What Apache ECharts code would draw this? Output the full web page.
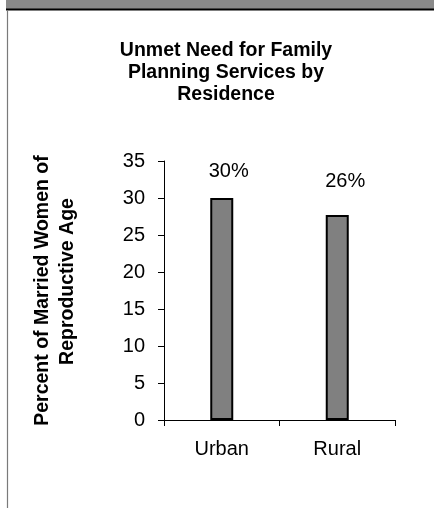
<!DOCTYPE html>
<html>
<head>
<meta charset="utf-8">
<script src="https://cdn.jsdelivr.net/npm/echarts@6/dist/echarts.min.js"></script>
<style>
  html, body { margin: 0; padding: 0; background: #fff; }
  #chart { width: 434px; height: 508px; }
</style>
</head>
<body>
<div id="chart"></div>
<script>
// data
const categories = ['Urban', 'Rural'];
const values = [30, 27.7];
const valueLabels = ['30%', '26%'];
const yTicks = [0, 5, 10, 15, 20, 25, 30, 35];

const titleText = 'Unmet Need for Family\nPlanning Services by\nResidence';

// label nudges (the 26% sits higher than its bar in the original)
const labelOffsets = [[7, 0], [8, -7]];

const chart = echarts.init(document.getElementById('chart'));

chart.setOption({
  animation: false,
  backgroundColor: '#fff',
  textStyle: { fontFamily: 'Arial, "Liberation Sans", sans-serif' },
  graphic: [
    // frame header bar and left edge
    { type: 'rect', shape: { x: 6, y: 0, width: 428, height: 9 }, style: { fill: '#8a8a8a' }, silent: true },
    { type: 'line', shape: { x1: 6, y1: 9.5, x2: 434, y2: 9.5 }, style: { stroke: '#000', lineWidth: 2 }, silent: true },
    { type: 'line', shape: { x1: 7.5, y1: 10, x2: 7.5, y2: 508 }, style: { stroke: '#7a7a7a', lineWidth: 1.2 }, silent: true }
  ],
  title: {
    text: titleText,
    left: 226,
    top: 40,
    padding: 0,
    textAlign: 'center',
    textStyle: {
      fontSize: 19.5,
      fontWeight: 'bold',
      color: '#000',
      lineHeight: 22,
      fontFamily: 'Arial, "Liberation Sans", sans-serif'
    }
  },
  grid: { left: 164, right: 39, top: 161, bottom: 88 },
  xAxis: {
    type: 'category',
    data: categories,
    axisLine: { lineStyle: { color: '#000', width: 1 } },
    axisTick: { show: true, length: 6, alignWithLabel: false, lineStyle: { color: '#000' } },
    axisLabel: { color: '#000', fontSize: 20, margin: 19 }
  },
  yAxis: {
    type: 'value',
    min: yTicks[0],
    max: yTicks[yTicks.length - 1],
    interval: 5,
    splitLine: { show: false },
    axisLine: { show: true, lineStyle: { color: '#000', width: 1 } },
    axisTick: { show: true, length: 6, lineStyle: { color: '#000' } },
    axisLabel: { color: '#000', fontSize: 20, margin: 19 },
    name: '{a|Percent of Married Women of}\n{b|Reproductive Age}',
    nameLocation: 'middle',
    nameRotate: 90,
    nameGap: 84,
    nameTextStyle: {
      rich: {
        a: { fontSize: 19.5, fontWeight: 'bold', color: '#000', lineHeight: 25 },
        b: { fontSize: 19.5, fontWeight: 'bold', color: '#000', lineHeight: 25, padding: [0, 0, 0, 18] }
      }
    }
  },
  series: [{
    type: 'bar',
    barWidth: 23,
    data: values.map((v, i) => ({
      value: v,
      label: { offset: labelOffsets[i] }
    })),
    itemStyle: { color: '#808080', borderColor: '#000', borderWidth: 2 },
    label: {
      show: true,
      position: 'top',
      distance: 17,
      color: '#000',
      fontSize: 20,
      formatter: p => valueLabels[p.dataIndex]
    }
  }]
});
</script>
</body>
</html>
